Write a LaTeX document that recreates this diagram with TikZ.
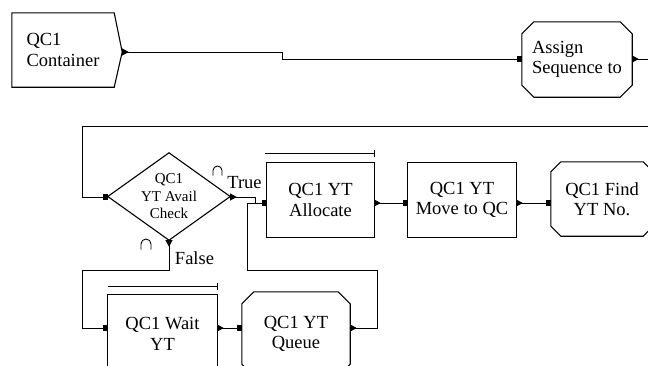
\documentclass[tikz,border=0pt]{standalone}
\usepackage{fontspec}
\setmainfont{Liberation Serif}
\usetikzlibrary{calc}
\newcommand\bigtxt{\fontsize{18.5}{20.5}\selectfont}
\newcommand\smalltxt{\fontsize{15}{17.5}\selectfont}
\tikzset{
  x=1pt, y=-1pt,
  blk/.style={rectangle, inner sep=0pt, align=center, font=\bigtxt},
  outline/.style={draw=black, line width=1.1pt, line join=miter},
  wire/.style={draw=black, line width=0.9pt},
  lbl/.style={inner sep=0pt, font=\bigtxt},
  pics/outtip/.style={code={\fill (0,-3.6) -- (6.5,0) -- (0,3.6) -- cycle;}},
  pics/insq/.style={code={\fill (-5,-2.6) rectangle (0,2.6);}},
}
\newcommand\octpath[2]{% node name, chamfer
  \draw[outline] ($(#1.north west)+(#2,0)$) -- ($(#1.north east)+(-#2,0)$)
    -- ($(#1.north east)+(0,#2)$) -- ($(#1.south east)+(0,-#2)$)
    -- ($(#1.south east)+(-#2,0)$) -- ($(#1.south west)+(#2,0)$)
    -- ($(#1.south west)+(0,-#2)$) -- ($(#1.north west)+(0,#2)$) -- cycle;}
\begin{document}
\begin{tikzpicture}
\useasboundingbox (0,0) rectangle (648,365);
\fill[white] (0,0) rectangle (648,365);

% ---- nodes ----
\node[blk, minimum width=102pt, minimum height=74pt, align=left] (cont) at (63,50) {QC1\\Container};
\node[blk, minimum width=110pt, minimum height=75pt, align=left] (assign) at (577,59.5) {Assign\\Sequence to};
\node[blk, minimum width=122pt, minimum height=87pt, font=\smalltxt] (dia) at (169,196.5) {QC1\\YT Avail\\Check};
\node[blk, minimum width=107pt, minimum height=74pt] (alloc) at (320.5,200) {QC1 YT\\Allocate};
\node[blk, minimum width=108pt, minimum height=74pt] (move) at (462,200) {QC1 YT\\Move to QC};
\node[blk, minimum width=102pt, minimum height=74pt] (find) at (602,199) {QC1 Find\\YT No.};
\node[blk, minimum width=109pt, minimum height=78pt] (wait) at (162.5,334) {QC1 Wait\\YT};
\node[blk, minimum width=108pt, minimum height=84pt] (queue) at (296,334) {QC1 YT\\Queue};

% ---- outlines ----
\draw[outline] (cont.north west) -- (cont.north east) -- ($(cont.east)+(8,2)$)
  -- (cont.south east) -- (cont.south west) -- cycle;
\octpath{assign}{12}
\draw[outline] (dia.west) -- (dia.north) -- (dia.east) -- (dia.south) -- cycle;
\draw[outline] (alloc.north west) rectangle (alloc.south east);
\draw[outline] (move.north west) rectangle (move.south east);
\octpath{find}{10}
\draw[outline] (wait.north west) rectangle (wait.south east);
\octpath{queue}{12}

% overbars
\draw[wire] ($(alloc.north west)+(-2,-9)$) -- ($(alloc.north east)+(0,-9)$);
\draw[wire] ($(alloc.north east)+(0,-12.5)$) -- ($(alloc.north east)+(0,-5.5)$);
\draw[wire] ($(wait.north west)+(0,-8)$) -- ($(wait.north east)+(0,-8)$);
\draw[wire] ($(wait.north east)+(0,-11.5)$) -- ($(wait.north east)+(0,-4.5)$);

% ---- ports ----
\coordinate (contout) at ($(cont.east)+(8,2)$);
\coordinate (assignin) at ($(assign.west)+(0,-0.5)$);
\coordinate (assignout) at ($(assign.east)+(0,-0.5)$);
\coordinate (assignfree) at (652,59);
\coordinate (loopfree) at (652,126);
\coordinate (diain) at ($(dia.west)+(0,0.5)$);
\coordinate (diaout) at ($(dia.east)+(0,0.5)$);
\coordinate (diadown) at (dia.south);
\coordinate (allocin) at ($(alloc.west)+(0,3)$);
\coordinate (allocout) at ($(alloc.east)+(0,3)$);
\coordinate (movein) at ($(move.west)+(0,3)$);
\coordinate (moveout) at ($(move.east)+(0,3)$);
\coordinate (findin) at ($(find.west)+(0,4)$);
\coordinate (waitin) at ($(wait.west)+(0,-6)$);
\coordinate (waitout) at ($(wait.east)+(0,-6)$);
\coordinate (queuein) at ($(queue.west)+(0,-6)$);
\coordinate (queueout) at ($(queue.east)+(0,-6)$);

% ---- connectors ----
\draw[wire] (contout) -- ++(160,0) |- (assignin);
\draw[wire] (assignout) -- (assignfree);
\draw[wire] (loopfree) -| ($(diain)+(-25,0)$) -- (diain);
\draw[wire] (diaout) -- ++(25,0) |- (allocin);
\draw[wire] (queueout) -- ++(27,0) |- ($(allocin)+(-19,67)$) |- (allocin);
\draw[wire] (diadown) -- ++(0,30) -| ($(waitin)+(-25,0)$) -- (waitin);
\draw[wire] (allocout) -- (movein);
\draw[wire] (moveout) -- (findin);
\draw[wire] (waitout) -- (queuein);

% ---- markers ----
\pic at (contout) {outtip};
\pic at (assignout) {outtip};
\pic at (diaout) {outtip};
\pic[rotate=-90] at (diadown) {outtip};
\pic at (allocout) {outtip};
\pic at (moveout) {outtip};
\pic at (waitout) {outtip};
\pic at (queueout) {outtip};
\pic at (assignin) {insq};
\pic at (diain) {insq};
\pic at (allocin) {insq};
\pic at (movein) {insq};
\pic at (findin) {insq};
\pic at (waitin) {insq};
\pic at (queuein) {insq};

% ---- labels ----
\node[lbl] (truelbl) at (244.5,183) {True};
\node[lbl] (falselbl) at (194.5,258) {False};
\draw[wire] (213,175.5) -- (213,170.5) arc[start angle=180, end angle=360, radius=4.5] -- (222,175.5);
\draw[wire] (141,249.5) -- (141,244) arc[start angle=180, end angle=360, radius=5] -- (151,249.5);
\end{tikzpicture}
\end{document}
